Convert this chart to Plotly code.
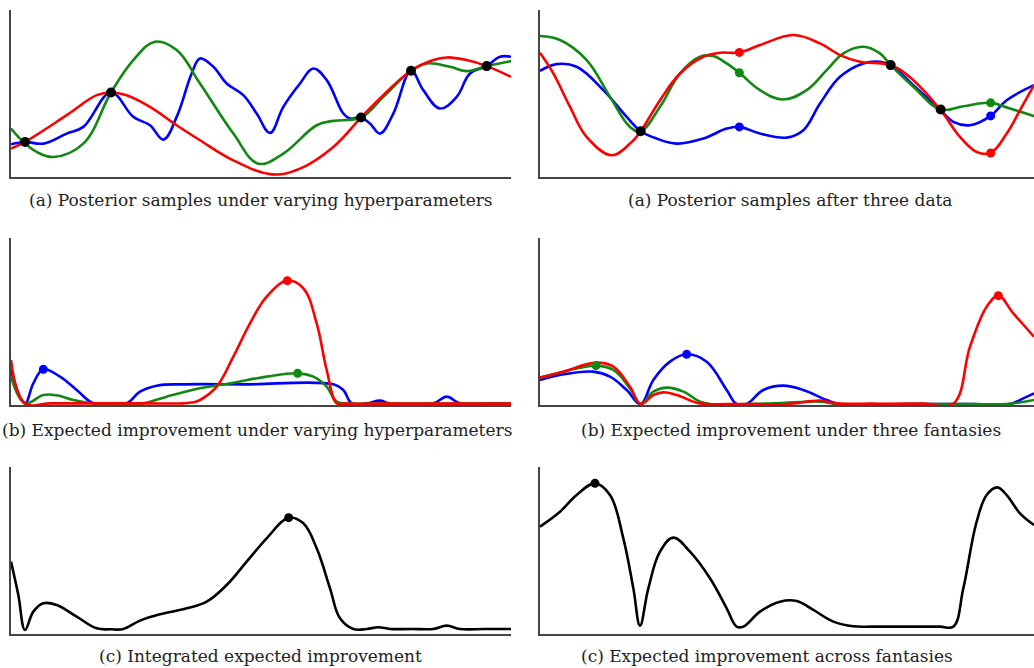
import plotly.graph_objects as go

# ---------------- data ----------------
# Panel (a) left: posterior samples under varying hyperparameters
a1_obs_x = [42, 300, 1050, 1200, 1427]
a1_obs_y = [105, 253, 178, 318, 332]
a1_red_x = [0, 42, 167, 257, 300, 347, 417, 497, 567, 667, 782, 867, 967, 1050, 1117, 1200, 1267, 1307, 1367, 1427, 1500]
a1_red_y = [85, 105, 185, 245, 253, 245, 210, 155, 110, 50, 8, 25, 90, 178, 245, 318, 350, 358, 350, 332, 300]
a1_green_x = [0, 42, 77, 127, 217, 300, 367, 432, 497, 567, 667, 742, 817, 917, 967, 1050, 1117, 1200, 1247, 1317, 1367, 1427, 1500]
a1_green_y = [145, 100, 75, 60, 100, 253, 350, 405, 380, 280, 130, 40, 70, 155, 168, 178, 240, 318, 340, 330, 317, 332, 347]
a1_blue_x = [0, 42, 97, 167, 217, 300, 367, 417, 457, 497, 542, 567, 607, 647, 697, 737, 777, 817, 867, 907, 947, 997, 1017, 1050, 1077, 1107, 1147, 1200, 1237, 1287, 1337, 1377, 1427, 1467, 1500]
a1_blue_y = [98, 105, 100, 130, 150, 253, 180, 155, 112, 180, 310, 355, 330, 280, 245, 190, 132, 210, 280, 325, 290, 190, 175, 178, 160, 130, 190, 318, 260, 205, 240, 310, 332, 360, 360]

# Panel (a) right: posterior samples after three data
a2_obs_x = [302, 1052, 1202]
a2_obs_y = [137, 335, 202]
a2_fant_x = [598, 1352]
a2_red_fant_y = [373, 72]
a2_green_fant_y = [312, 222]
a2_blue_fant_y = [150, 183]
a2_red_x = [0, 40, 90, 140, 215, 270, 302, 360, 420, 490, 540, 598, 660, 760, 840, 900, 960, 1052, 1120, 1202, 1260, 1310, 1352, 1400, 1440, 1482]
a2_red_y = [372, 310, 210, 120, 65, 100, 137, 230, 310, 360, 372, 373, 395, 425, 400, 365, 345, 335, 290, 200, 120, 75, 72, 130, 200, 275]
a2_green_x = [0, 60, 140, 210, 270, 302, 360, 420, 480, 520, 560, 598, 660, 730, 800, 860, 910, 970, 1020, 1052, 1120, 1202, 1270, 1352, 1410, 1482]
a2_green_y = [422, 410, 350, 240, 150, 137, 210, 310, 360, 362, 340, 312, 260, 232, 260, 320, 370, 390, 370, 335, 270, 202, 212, 222, 205, 182]
a2_blue_x = [0, 50, 110, 190, 260, 302, 350, 410, 490, 560, 598, 660, 740, 790, 840, 900, 970, 1020, 1052, 1120, 1202, 1240, 1290, 1352, 1400, 1482]
a2_blue_y = [318, 338, 330, 260, 180, 137, 115, 100, 115, 145, 150, 130, 118, 140, 220, 300, 340, 345, 335, 275, 200, 165, 155, 183, 230, 275]

# Panel (b) left: expected improvement under varying hyperparameters
b1_red_x = [0, 42, 120, 267, 400, 517, 547, 567, 617, 667, 717, 767, 829, 877, 917, 947, 977, 1000, 1100, 1300, 1500]
b1_red_y = [135, 5, 5, 5, 5, 5, 8, 15, 55, 145, 245, 325, 373, 350, 245, 105, 5, 4, 4, 4, 4]
b1_green_x = [0, 42, 97, 137, 187, 247, 300, 397, 467, 567, 667, 767, 860, 907, 947, 977, 1007, 1100, 1300, 1500]
b1_green_y = [85, 5, 30, 29, 15, 5, 4, 5, 25, 50, 67, 85, 95, 85, 55, 10, 5, 4, 4, 4]
b1_blue_x = [0, 42, 67, 97, 147, 197, 247, 300, 347, 387, 437, 517, 700, 967, 997, 1022, 1067, 1107, 1137, 1267, 1307, 1347, 1420, 1500]
b1_blue_y = [105, 5, 65, 107, 85, 45, 5, 5, 5, 40, 58, 62, 62, 62, 45, 5, 5, 13, 5, 5, 25, 5, 5, 5]
b1_red_max = (829, 373)
b1_green_max = (860, 95)
b1_blue_max = (97, 107)

# Panel (b) right: expected improvement under three fantasies
b2_red_x = [0, 70, 168, 220, 270, 302, 340, 370, 410, 470, 500, 600, 740, 840, 890, 1000, 1150, 1240, 1290, 1340, 1375, 1420, 1482]
b2_red_y = [82, 100, 127, 115, 55, 3, 30, 38, 30, 7, 3, 3, 3, 13, 5, 4, 4, 4, 175, 295, 328, 275, 205]
b2_green_x = [0, 70, 168, 220, 270, 302, 340, 380, 430, 480, 510, 700, 840, 890, 1100, 1300, 1400, 1482]
b2_green_y = [82, 100, 118, 105, 50, 3, 40, 52, 40, 10, 3, 5, 10, 3, 3, 3, 3, 15]
b2_blue_x = [0, 70, 160, 210, 260, 302, 340, 390, 440, 500, 560, 590, 620, 670, 730, 790, 860, 900, 1100, 1300, 1410, 1450, 1482]
b2_blue_y = [75, 92, 100, 85, 45, 3, 75, 130, 152, 130, 45, 3, 3, 45, 58, 45, 15, 3, 3, 3, 3, 20, 35]
b2_red_max = (1375, 328)
b2_green_max = (168, 118)
b2_blue_max = (440, 152)

# Panel (c) left: integrated expected improvement
c1_x = [0, 22, 42, 67, 97, 137, 197, 257, 300, 337, 387, 447, 527, 587, 647, 707, 767, 833, 877, 917, 957, 987, 1027, 1067, 1102, 1137, 1200, 1267, 1307, 1347, 1420, 1500]
c1_y = [218, 118, 13, 68, 93, 88, 53, 18, 15, 16, 41, 60, 78, 98, 148, 218, 288, 350, 333, 258, 138, 48, 16, 16, 21, 16, 16, 16, 26, 16, 16, 16]
c1_max = (833, 350)

# Panel (c) right: expected improvement across fantasies
c2_x = [0, 60, 110, 165, 210, 250, 280, 300, 325, 360, 400, 450, 510, 560, 590, 610, 660, 720, 770, 820, 880, 940, 1000, 1100, 1200, 1240, 1270, 1310, 1340, 1372, 1400, 1440, 1482]
c2_y = [323, 368, 418, 453, 418, 288, 138, 26, 138, 248, 290, 248, 168, 78, 23, 23, 68, 98, 100, 73, 38, 24, 23, 23, 23, 23, 138, 338, 418, 441, 418, 363, 328]
c2_max = (165, 453)

captions = [
    "(a) Posterior samples under varying hyperparameters",
    "(a) Posterior samples after three data",
    "(b) Expected improvement under varying hyperparameters",
    "(b) Expected improvement under three fantasies",
    "(c) Integrated expected improvement",
    "(c) Expected improvement across fantasies",
]

RED, GREEN, BLUE, BLACK = "#ff0000", "#118811", "#0000ff", "#000000"
W, H = 1034, 668

fig = go.Figure()

def line(x, y, color, ax, width=2.6):
    fig.add_trace(go.Scatter(x=x, y=y, mode="lines", line=dict(color=color, width=width, shape="spline", smoothing=1.1),
                             xaxis="x" + ax, yaxis="y" + ax, showlegend=False, hoverinfo="skip"))

def dots(x, y, color, ax, size=9):
    fig.add_trace(go.Scatter(x=x, y=y, mode="markers", marker=dict(color=color, size=size),
                             xaxis="x" + ax, yaxis="y" + ax, showlegend=False, hoverinfo="skip"))

# panel 1
line(a1_blue_x, a1_blue_y, BLUE, "")
line(a1_green_x, a1_green_y, GREEN, "")
line(a1_red_x, a1_red_y, RED, "")
dots(a1_obs_x, a1_obs_y, BLACK, "", 10)
# panel 2
line(a2_blue_x, a2_blue_y, BLUE, "2")
line(a2_green_x, a2_green_y, GREEN, "2")
line(a2_red_x, a2_red_y, RED, "2")
dots(a2_fant_x, a2_red_fant_y, RED, "2", 9)
dots(a2_fant_x, a2_green_fant_y, GREEN, "2", 9)
dots(a2_fant_x, a2_blue_fant_y, BLUE, "2", 9)
dots(a2_obs_x, a2_obs_y, BLACK, "2", 10)
# panel 3
line(b1_blue_x, b1_blue_y, BLUE, "3")
line(b1_green_x, b1_green_y, GREEN, "3")
line(b1_red_x, b1_red_y, RED, "3")
dots([b1_red_max[0]], [b1_red_max[1]], RED, "3", 9)
dots([b1_green_max[0]], [b1_green_max[1]], GREEN, "3", 9)
dots([b1_blue_max[0]], [b1_blue_max[1]], BLUE, "3", 9)
# panel 4
line(b2_blue_x, b2_blue_y, BLUE, "4")
line(b2_green_x, b2_green_y, GREEN, "4")
line(b2_red_x, b2_red_y, RED, "4")
dots([b2_red_max[0]], [b2_red_max[1]], RED, "4", 9)
dots([b2_green_max[0]], [b2_green_max[1]], GREEN, "4", 9)
dots([b2_blue_max[0]], [b2_blue_max[1]], BLUE, "4", 9)
# panel 5
line(c1_x, c1_y, BLACK, "5")
dots([c1_max[0]], [c1_max[1]], BLACK, "5", 9)
# panel 6
line(c2_x, c2_y, BLACK, "6")
dots([c2_max[0]], [c2_max[1]], BLACK, "6", 9)

xl = [11 / W, 511 / W]
xr = [540 / W, 1.0]
rows = [(10, 177), (238.3, 405), (466.7, 634.3)]
ydoms = [[1 - b / H, 1 - t / H] for t, b in rows]
yranges = [[0, 500], [0, 500], [0, 503]]

ax_common = dict(showgrid=False, zeroline=False, showticklabels=False, ticks="",
                 showline=True, linecolor="#444444", linewidth=2, fixedrange=True)
layout = {}
for i in range(6):
    r, c = divmod(i, 2)
    sfx = "" if i == 0 else str(i + 1)
    layout["xaxis" + sfx] = dict(ax_common, domain=xl if c == 0 else xr,
                                 range=[0, 1500] if c == 0 else [0, 1482],
                                 anchor="y" + sfx)
    layout["yaxis" + sfx] = dict(ax_common, domain=ydoms[r], range=yranges[r], anchor="x" + sfx)

cap_pos = [(261, 200), (790, 200), (257, 430), (791, 430), (260, 656), (767, 656)]
annotations = []
for txt, (cx, cy) in zip(captions, cap_pos):
    annotations.append(dict(text=txt, x=cx / W, y=1 - cy / H, xref="paper", yref="paper",
                            xanchor="center", yanchor="middle", showarrow=False,
                            font=dict(family="DejaVu Serif", size=17, color="#222222")))

fig.update_layout(width=W, height=H, margin=dict(l=0, r=0, t=0, b=0),
                  paper_bgcolor="white", plot_bgcolor="white",
                  annotations=annotations, **layout)

fig.write_html("out.html")
